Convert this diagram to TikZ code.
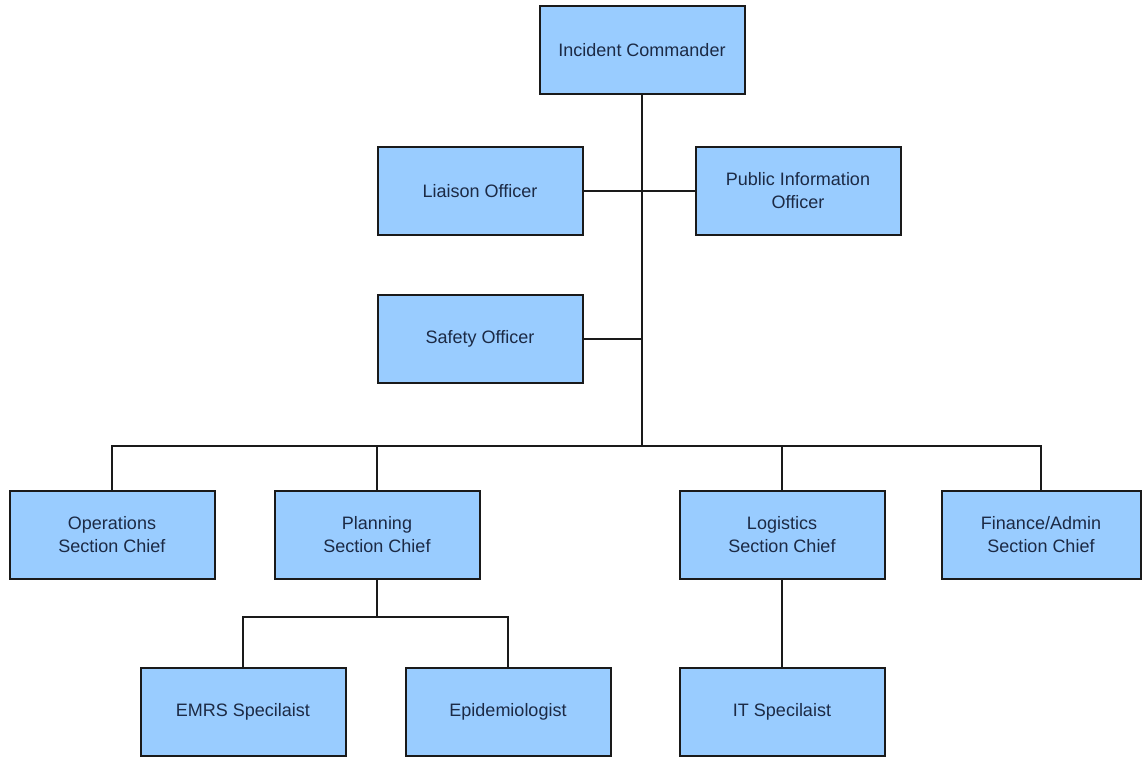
\documentclass[tikz,border=0pt]{standalone}
\usepackage{fontspec}
\setmainfont{Liberation Sans}
\definecolor{boxfill}{HTML}{99CCFF}
\definecolor{boxtext}{HTML}{1C2A45}
\definecolor{edge}{HTML}{1A1A1A}
\begin{document}
\begin{tikzpicture}[x=1pt,y=-1pt,
  orgbox/.style={draw=edge,line width=2pt,fill=boxfill,text=boxtext,minimum width=205pt,minimum height=88pt,inner sep=2pt,align=center,font=\fontsize{18}{23}\selectfont},
  link/.style={draw=edge,line width=2pt}]
\useasboundingbox (0,0) rectangle (1142,761);
\node[orgbox] (ic) at (642,50) {Incident Commander};
\node[orgbox] (lo) at (480,191) {Liaison Officer};
\node[orgbox] (pio) at (798,191) {Public Information\\Officer};
\node[orgbox] (so) at (480,339) {Safety Officer};
\node[orgbox] (ops) at (112,535) {Operations\\Section Chief};
\node[orgbox] (plan) at (377,535) {Planning\\Section Chief};
\node[orgbox] (log) at (782,535) {Logistics\\Section Chief};
\node[orgbox,minimum width=199pt] (fin) at (1041,535) {Finance/Admin\\Section Chief};
\node[orgbox] (emrs) at (243,712) {EMRS Specilaist};
\node[orgbox] (epi) at (508,712) {Epidemiologist};
\node[orgbox] (it) at (782,712) {IT Specilaist};
\coordinate (bus) at (642,446);
\coordinate (pbus) at (377,617);
\draw[link] (ic.south) -- (bus);
\draw[link] (lo.east) -- (pio.west);
\draw[link] (so.east) -- (so.east -| ic.south);
\draw[link] (ops.north) |- (bus) -| (fin.north);
\draw[link] (plan.north) -- (plan.north |- bus);
\draw[link] (log.north) -- (log.north |- bus);
\draw[link] (plan.south) -- (pbus);
\draw[link] (emrs.north) |- (pbus) -| (epi.north);
\draw[link] (log.south) -- (it.north);
\end{tikzpicture}
\end{document}
